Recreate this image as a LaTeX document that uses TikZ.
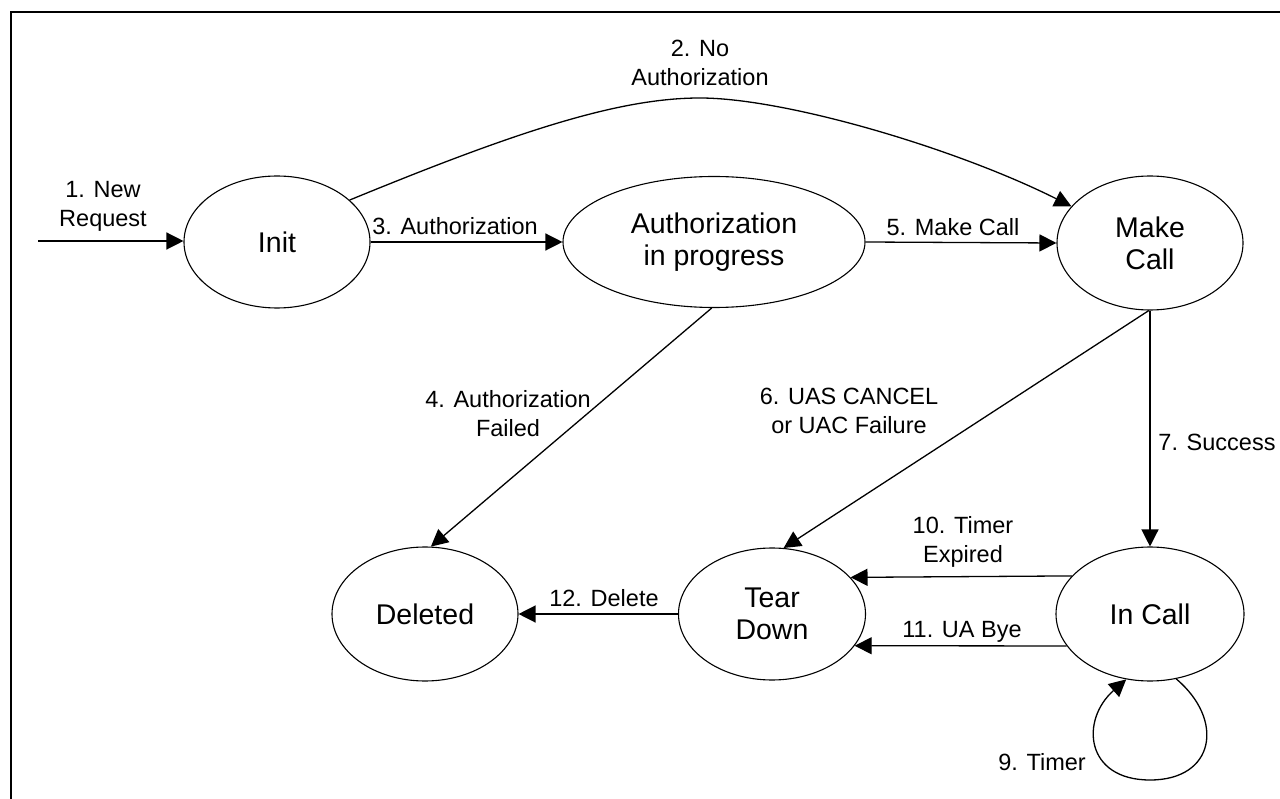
\documentclass[tikz,border=0pt]{standalone}
\usepackage{fontspec}
\setmainfont{Liberation Sans}
\usetikzlibrary{shapes.geometric,arrows.meta}

\tikzset{
  state/.style={ellipse, draw, line width=1.1pt, inner sep=0pt,
    align=center, font=\fontsize{28.5}{32}\selectfont},
  trans/.style={line width=1.3pt, -{Triangle[length=17pt,width=17pt]}},
  lbl/.style={align=center, inner sep=0pt, font=\fontsize{23.5}{29}\selectfont},
  frame/.style={line width=1.6pt}
}

\begin{document}
\begin{tikzpicture}[x=1pt,y=-1pt]
  \useasboundingbox (0,0) rectangle (1280,799);
  % open frame: top and left edges only
  \draw[frame] (11,799) -- (11,12) -- (1280,12);

  % states
  \node[state, minimum width=186pt, minimum height=132pt] (init) at (277,242) {Init};
  \node[state, minimum width=302pt, minimum height=131pt] (auth) at (714,242) {Authorization\\in progress};
  \node[state, minimum width=186pt, minimum height=134pt] (make) at (1150,243) {Make\\Call};
  \node[state, minimum width=186pt, minimum height=134pt] (deleted) at (425,614) {Deleted};
  \node[state, minimum width=187pt, minimum height=132pt] (tear) at (772,614) {Tear\\Down};
  \node[state, minimum width=188pt, minimum height=134pt] (incall) at (1150,614) {In Call};

  % entry point
  \coordinate (entry) at (38,241);

  % transitions
  \draw[trans] (entry) -- (init.west |- entry);
  \draw[trans] (init.30) .. controls (520,130) and (620,98) .. (700,98)
                         .. controls (785,98) and (955,148) .. (make.155);
  \draw[trans] (init.east) -- (auth.west);
  \draw[trans] (auth.-92) -- (deleted.85);
  \draw[trans] (auth.east) -- (make.west);
  \draw[trans] (make.-91) -- (tear.80);
  \draw[trans] (make.south) -- (incall.north);
  \draw[trans] (incall.-68) .. controls (1225,720) and (1215,780) .. (1150,780)
                            .. controls (1085,780) and (1080,720) .. (incall.-110);
  \draw[trans] (incall.154.7) -- (tear.25.5);
  \draw[trans] (incall.201.2) -- (tear.-21.4);
  \draw[trans] (tear.west) -- (deleted.east);

  % transition labels
  \node[lbl] (l1) at (103,206) {1. New\\Request};
  \node[lbl] (l2) at (700,63) {2. No\\Authorization};
  \node[lbl] (l3) at (455,226) {3. Authorization};
  \node[lbl] (l4) at (508,414) {4. Authorization\\Failed};
  \node[lbl] (l5) at (953,227) {5. Make Call};
  \node[lbl] (l6) at (849,411) {6. UAS CANCEL\\or UAC Failure};
  \node[lbl] (l7) at (1217,442) {7. Success};
  \node[lbl] (l9) at (1042,762) {9. Timer};
  \node[lbl] (l10) at (963,542) {10. Timer\\Expired};
  \node[lbl] (l11) at (962,632) {11. UA Bye};
  \node[lbl] (l12) at (604,598) {12. Delete};
\end{tikzpicture}
\end{document}
